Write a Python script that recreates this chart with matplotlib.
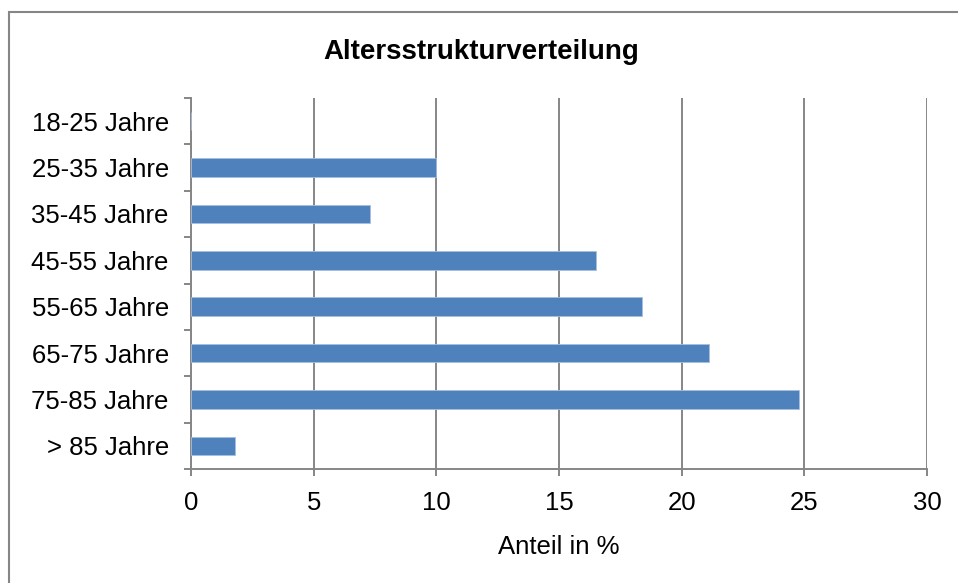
import numpy as np
import matplotlib
matplotlib.use("Agg")
from matplotlib import pyplot as plt
from matplotlib.patches import Rectangle
from matplotlib.ticker import FixedLocator

# Daten
kategorien = ["18-25 Jahre", "25-35 Jahre", "35-45 Jahre", "45-55 Jahre",
              "55-65 Jahre", "65-75 Jahre", "75-85 Jahre", "> 85 Jahre"]
anteil = [0, 10, 7.3, 16.5, 18.4, 21.1, 24.8, 1.8]
x_ticks = [0, 5, 10, 15, 20, 25, 30]

grau = "#868686"
blau = "#4F81BD"

plt.rcParams['font.family'] = ['Liberation Sans', 'DejaVu Sans']

fig = plt.figure(figsize=(9.58, 5.83), dpi=100)
ax = fig.add_axes([191 / 958, 1 - 469 / 583, (927 - 191) / 958, (469 - 98) / 583])

y = np.arange(len(kategorien))
ax.barh(y, anteil, height=0.4, color=blau, edgecolor="#A7BFDE", linewidth=0.6, zorder=3)

ax.set_xlim(0, 30)
ax.set_ylim(len(kategorien) - 0.5, -0.5)
ax.set_xticks(x_ticks)
ax.set_yticks(y)
ax.set_yticklabels(kategorien)
ax.yaxis.set_minor_locator(FixedLocator(np.arange(-0.5, len(kategorien), 1)))

# Gitter und Achsen im Excel-Stil
ax.grid(axis="x", color=grau, linewidth=1.4, zorder=0)
for s in ["top", "right"]:
    ax.spines[s].set_visible(False)
for s in ["left", "bottom"]:
    ax.spines[s].set_color(grau)
    ax.spines[s].set_linewidth(1.4)

ax.tick_params(axis="y", which="major", length=0, pad=16, labelsize=18.5)
ax.tick_params(axis="y", which="minor", length=5, width=1.4, color=grau, direction="out")
ax.tick_params(axis="x", which="major", length=5, width=1.4, color=grau, pad=11, labelsize=18.5)

ax.set_xlabel("Anteil in %", fontsize=18.5, labelpad=14)
fig.text(0.502, 1 - 52 / 583, "Altersstrukturverteilung", ha="center", va="center",
         fontsize=20, fontweight="bold")

# Rahmen um das Diagramm
fig.patches.append(Rectangle((9 / 958, -0.05), 1.1, 1 - 12 / 583 + 0.05,
                             transform=fig.transFigure, fill=False,
                             edgecolor=grau, linewidth=1.5))

fig.savefig("out.png", dpi=100)
